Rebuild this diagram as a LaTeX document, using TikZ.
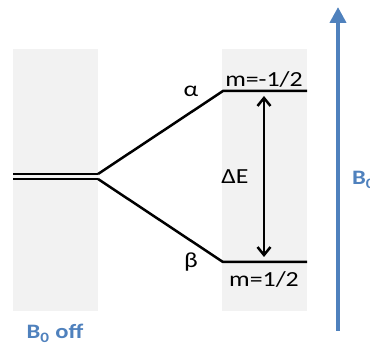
\documentclass[tikz,border=0pt]{standalone}
\usepackage{fontspec}
\setmainfont{Carlito}
\usetikzlibrary{arrows.meta, positioning}
\definecolor{myblue}{HTML}{4F81BD}
\definecolor{mygray}{HTML}{F2F2F2}
\newcommand{\widetext}[1]{\scalebox{1.2}[1]{#1}}
\tikzset{
	panelnode/.style={
			draw=none,
			fill=mygray,
			minimum width=85pt,
			minimum height=262pt,
			inner sep=0pt,
			anchor=north west
		},
	levelnode/.style={
			inner sep=0pt,
			anchor=base,
			font=\fontsize{21.5}{25}\selectfont
		},
	fieldnode/.style={
			levelnode,
			text=myblue,
			font=\fontsize{20.5}{24}\selectfont\bfseries
		},
	levelline/.style={
			line width=2.5pt,
			black
		},
	offline/.style={
			line width=2pt,
			black
		}
}

\begin{document}
\begin{tikzpicture}[x=1pt, y=-1pt]
\useasboundingbox (0,0) rectangle (370,347);
\clip (0,0) rectangle (370,347);

\node[panelnode] (offpanel) at (13,49) {};
\node[panelnode] (onpanel) at (222,49) {};

\coordinate (offtopleft) at (13,174);
\coordinate (offbotleft) at (13,179);
\coordinate (splittop) at (98,174);
\coordinate (splitbot) at (98,179);
\coordinate (alphaleft) at (223,91);
\coordinate (alpharight) at (307,91);
\coordinate (betaleft) at (223,262);
\coordinate (betaright) at (307,262);
\coordinate (gaptop) at (264,96);
\coordinate (gapbot) at (264,257);
\coordinate (fieldbase) at (338,331);
\coordinate (fieldtip) at (338,7);

\draw[offline] (offtopleft) -- (splittop);
\draw[offline] (offbotleft) -- (splitbot);
\draw[levelline] (splittop) -- (alphaleft) -- (alpharight);
\draw[levelline] (splitbot) -- (betaleft) -- (betaright);

\draw[levelline, {Straight Barb[length=8pt,width=13pt]}-{Straight Barb[length=8pt,width=13pt]}] (gaptop) -- (gapbot);
\draw[line width=4pt, myblue, -{Triangle[length=16pt,width=16pt]}] (fieldbase) -- (fieldtip);

\node[levelnode] (alpha) at (191,97) {\widetext{α}};
\node[levelnode] (beta) at (191,268) {\widetext{β}};
\node[levelnode] (upperm) at (264,87) {\widetext{m=-1/2}};
\node[levelnode] (lowerm) at (264,287) {\widetext{m=1/2}};
\node[levelnode] (gap) at (235,184) {\widetext{ΔE}};

\node[fieldnode] (fieldoff) at (55,339) {\widetext{B\textsubscript{0} off}};
\node[fieldnode, anchor=base west] (fieldon) at (352,185) {\widetext{B\textsubscript{0}}};
\end{tikzpicture}
\end{document}
